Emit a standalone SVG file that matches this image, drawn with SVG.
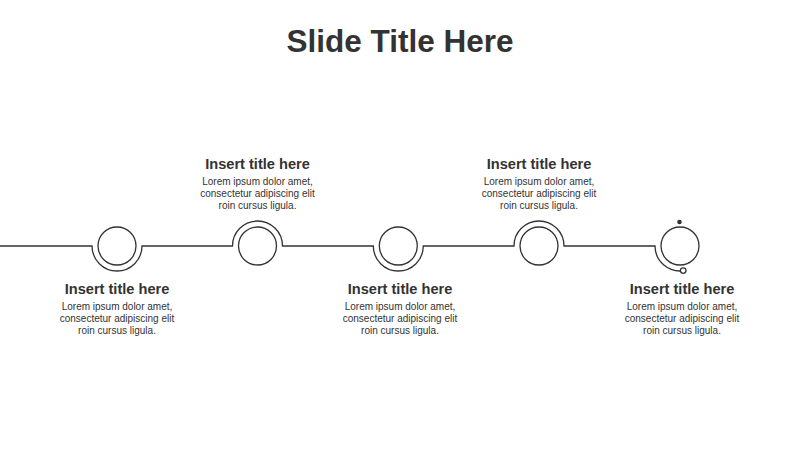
<svg xmlns="http://www.w3.org/2000/svg" width="800" height="450" viewBox="0 0 800 450">
<style>
.ln{fill:none;stroke:#333;stroke-width:1.3}
.ring{fill:#fff;stroke:#333;stroke-width:1.3}
.h{font-family:"Liberation Sans",Arial,sans-serif;font-weight:bold;font-size:14.6px;fill:#333;text-anchor:middle}
.b{font-family:"Liberation Sans",Arial,sans-serif;font-size:10px;fill:#333;text-anchor:middle}
.t{font-family:"Liberation Sans",Arial,sans-serif;font-weight:bold;font-size:31.5px;fill:#333;text-anchor:middle}
</style>
<rect width="800" height="450" fill="#fff"/>
<text class="t" x="400" y="52">Slide Title Here</text>
<g id="connectors">
<path class="ln" d="M0,246 H92 A25,25 0 0 0 142,246 H232.5 A25,25 0 0 1 282.5,246 H373.3 A25,25 0 0 0 423.3,246 H514 A25,25 0 0 1 564,246 H655 A25,25 0 0 0 684.1,270.6"/>
</g>
<g id="node1">
<circle class="ring" cx="117" cy="246" r="19"/>
<text class="h" x="117" y="294">Insert title here</text>
<text class="b" x="117" y="309.5">Lorem ipsum dolor amet,</text>
<text class="b" x="117" y="321.5">consectetur adipiscing elit</text>
<text class="b" x="117" y="333.5">roin cursus ligula.</text>
</g>
<g id="node2">
<circle class="ring" cx="257.5" cy="246" r="19"/>
<text class="h" x="257.5" y="169">Insert title here</text>
<text class="b" x="257.5" y="184.5">Lorem ipsum dolor amet,</text>
<text class="b" x="257.5" y="196.5">consectetur adipiscing elit</text>
<text class="b" x="257.5" y="208.5">roin cursus ligula.</text>
</g>
<g id="node3">
<circle class="ring" cx="398.3" cy="246" r="19"/>
<text class="h" x="400" y="294">Insert title here</text>
<text class="b" x="400" y="309.5">Lorem ipsum dolor amet,</text>
<text class="b" x="400" y="321.5">consectetur adipiscing elit</text>
<text class="b" x="400" y="333.5">roin cursus ligula.</text>
</g>
<g id="node4">
<circle class="ring" cx="539" cy="246" r="19"/>
<text class="h" x="539" y="169">Insert title here</text>
<text class="b" x="539" y="184.5">Lorem ipsum dolor amet,</text>
<text class="b" x="539" y="196.5">consectetur adipiscing elit</text>
<text class="b" x="539" y="208.5">roin cursus ligula.</text>
</g>
<g id="node5">
<circle class="ring" cx="680" cy="246" r="19"/>
<circle cx="679.5" cy="222" r="2.3" fill="#333"/>
<circle class="ring" cx="683.2" cy="270.6" r="2.8"/>
<text class="h" x="682" y="294">Insert title here</text>
<text class="b" x="682" y="309.5">Lorem ipsum dolor amet,</text>
<text class="b" x="682" y="321.5">consectetur adipiscing elit</text>
<text class="b" x="682" y="333.5">roin cursus ligula.</text>
</g>
</svg>
